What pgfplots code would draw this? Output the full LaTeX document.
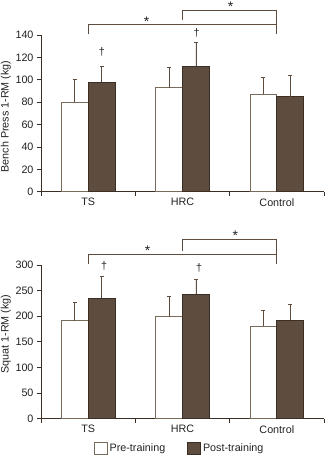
\documentclass[border=0pt]{standalone}
\usepackage{fontspec}
\setmainfont{Liberation Sans}
\usepackage{pgfplots}
\pgfplotsset{compat=1.18}
\definecolor{post}{HTML}{5E4C3E}
\definecolor{edge}{HTML}{3B2E24}
\definecolor{preedge}{HTML}{7A6A5A}
\definecolor{txt}{HTML}{222222}
\newcommand{\fs}{\fontsize{10.8}{13}\selectfont}
\tikzset{starlbl/.style={txt, font=\fontsize{14}{14}\selectfont, yshift=-3bp},
         dag/.style={txt, font=\fs}}
\pgfplotsset{myax/.style={
  scale only axis, width=283bp,
  xmin=-0.5, xmax=2.5, ymin=0,
  axis x line*=bottom, axis y line*=left,
  axis line style={edge, line width=0.8pt},
  every tick/.style={edge, line width=0.8pt},
  tick align=outside, major tick length=4bp,
  xtick={-0.5,0.5,1.5,2.5}, xticklabels={},
  extra x ticks={0,1,2}, extra x tick labels={TS,HRC,Control},
  extra x tick style={major tick length=0pt, xticklabel style={yshift=-3bp}},
  tick label style={txt, font=\fs},
  /pgf/number format/assume math mode=true,
  label style={txt, font=\fs},
  clip=false,
  prebar/.style={ybar, bar width=0.285, bar shift=0pt, fill=white, draw=preedge, line width=0.8pt,
    error bars/.cd, y dir=plus, y explicit,
    error bar style={post, line width=0.8pt},
    error mark options={post, line width=0.8pt, mark size=2bp, rotate=90}},
  postbar/.style={ybar, bar width=0.285, bar shift=0pt, fill=post, draw=edge, line width=0.8pt,
    error bars/.cd, y dir=plus, y explicit,
    error bar style={post, line width=0.8pt},
    error mark options={post, line width=0.8pt, mark size=2bp, rotate=90}},
}}
\begin{document}
\begin{tikzpicture}[x=1bp,y=1bp]
\useasboundingbox (0bp,0bp) rectangle (330bp,457bp);
% top chart
\begin{axis}[myax, at={(41bp,265.3bp)}, anchor=south west, height=156.7bp,
  ymax=140, ytick distance=20,
  ylabel={Bench Press 1-RM (kg)},
  ylabel style={at={(axis description cs:-0.124,0.48)}, anchor=center}]
\addplot[prebar] coordinates {(-0.1425,80) +- (0,20) (0.8575,93) +- (0,18) (1.8575,87) +- (0,15)};
\addplot[postbar] coordinates {(0.1425,98) +- (0,14) (1.1425,112) +- (0,21) (2.1425,85) +- (0,19)};
\draw[post, line width=0.8pt] (axis cs:0,140.5) -- (axis cs:0,149.5) -- (axis cs:2,149.5);
\draw[post, line width=0.8pt] (axis cs:1,153) -- (axis cs:1,162) -- (axis cs:2,162) -- (axis cs:2,140.5);
\node[starlbl] at (axis cs:0.62,155) {*};
\node[starlbl] at (axis cs:1.51,168) {*};
\node[dag] at (axis cs:0.146,125) {\textdagger};
\node[dag] at (axis cs:1.15,142) {\textdagger};
\end{axis}
% bottom chart
\begin{axis}[myax, at={(41bp,38.3bp)}, anchor=south west, height=153.7bp,
  ymax=300, ytick distance=50,
  ylabel={Squat 1-RM (kg)},
  ylabel style={at={(axis description cs:-0.124,0.55)}, anchor=center},
  legend style={draw=none, fill=none, legend columns=2, at={(0.49,-0.195)}, anchor=center,
    font=\fs, text=txt,
    /tikz/every even column/.append style={column sep=20bp}},
  legend image code/.code={\draw[#1] (0bp,-6bp) rectangle (13bp,6bp);}]
\addplot[prebar] coordinates {(-0.1425,191) +- (0,36) (0.8575,199) +- (0,39) (1.8575,181) +- (0,30)};
\addlegendentry{Pre-training}
\addplot[postbar] coordinates {(0.1425,235) +- (0,42) (1.1425,243) +- (0,28) (2.1425,192) +- (0,32)};
\addlegendentry{Post-training}
\draw[post, line width=0.8pt] (axis cs:0,301.5) -- (axis cs:0,321) -- (axis cs:2,321);
\draw[post, line width=0.8pt] (axis cs:1,328) -- (axis cs:1,349) -- (axis cs:2,349) -- (axis cs:2,301.5);
\node[starlbl] at (axis cs:0.63,333) {*};
\node[starlbl] at (axis cs:1.56,363) {*};
\node[dag] at (axis cs:0.17,299) {\textdagger};
\node[dag] at (axis cs:1.175,295) {\textdagger};
\end{axis}
\end{tikzpicture}
\end{document}
